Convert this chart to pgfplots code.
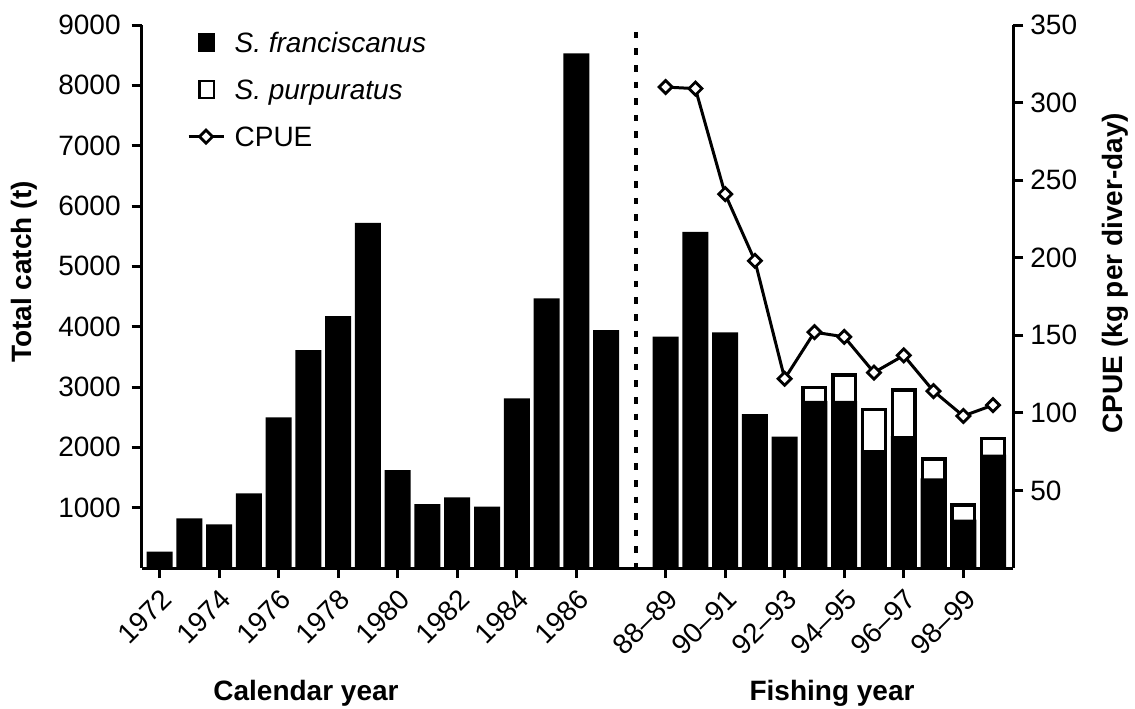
\documentclass[border=0pt]{standalone}
\usepackage{fontspec}
\setmainfont{Liberation Sans}
\usepackage{pgfplots}
\pgfplotsset{compat=1.18}
\pgfplotsset{
  cpue legend/.style={legend image code/.code={\draw[mark repeat=2, mark phase=2, ##1] plot coordinates {(0pt,0pt) (8.75pt,0pt) (17.5pt,0pt)};}},
}
\begin{document}
\begin{tikzpicture}
\useasboundingbox (-70.85pt,-70pt) rectangle (496.65pt,284pt);
\pgfplotsset{
  base/.style={
    scale only axis, width=435.8pt, height=271.5pt,
    xmin=-0.6, xmax=28.68,
    enlargelimits=false,
    tick align=outside,
    major tick length=5pt,
    tick style={black, line width=1.5pt},
    axis line style={black, line width=1.5pt},
    tick label style={font=\fontsize{14}{16.8}\selectfont},
    /pgf/number format/assume math mode=true,
    /pgf/number format/1000 sep={},
    label style={font=\bfseries\fontsize{14}{16.8}\selectfont},
  }
}
\begin{axis}[base,
  ybar, bar width=13pt,
  ymin=0, ymax=9000,
  axis x line*=bottom, axis y line*=left,
  ytick={1000,2000,...,9000},
  xtick={0,2,4,6,8,10,12,14,17,19,21,23,25,27},
  xticklabels={1972,1974,1976,1978,1980,1982,1984,1986,88--89,90--91,92--93,94--95,96--97,98--99},
  x tick label style={rotate=45, anchor=north east, xshift=0pt},
  y tick label style={xshift=-2pt},
  ylabel={Total catch (t)},
  ylabel style={at={(axis description cs:-0.135,0.545)}, anchor=center},
  clip=false,
]
% S. purpuratus on top: total height (white segment with border)
\addplot[fill=white, draw=black, line width=1.7pt, bar width=11.3pt, bar shift=0pt] coordinates {
(22,2988) (23,3198) (24,2628) (25,2949) (26,1806) (27,1044) (28,2150)};
% S. franciscanus
\addplot[fill=black, draw=none, bar width=13pt, bar shift=0pt] coordinates {
(0,270) (1,823) (2,724) (3,1238) (4,2497) (5,3612) (6,4176) (7,5722)
(8,1624) (9,1060) (10,1171) (11,1016) (12,2812) (13,4469) (14,8529) (15,3944)
(17,3833) (18,5573) (19,3905) (20,2552) (21,2176) (22,2772) (23,2772)
(24,1955) (25,2187) (26,1486) (27,800) (28,1880)};
\draw[line width=1.8pt, dash pattern=on 3.3pt off 5pt] (axis cs:16,8887) -- (axis cs:16,0);
\node[anchor=base, yshift=-66pt, font=\bfseries\fontsize{14}{16.8}\selectfont] at (axis description cs:0.1885,0) {Calendar year};
\node[anchor=base, yshift=-66pt, font=\bfseries\fontsize{14}{16.8}\selectfont] at (axis description cs:0.792,0) {Fishing year};
\end{axis}
\begin{axis}[base,
  ymin=0, ymax=350,
  axis y line*=right, axis x line=none,
  ytick={50,100,...,350},
  ylabel={CPUE (kg per diver-day)},
  ylabel style={at={(axis description cs:1.1167,0.543)}, anchor=center},
  legend style={draw=none, fill=none, at={(axis description cs:0.052,0.9932)}, anchor=north west,
    inner sep=0pt, outer sep=0pt, row sep=9.5pt, column sep=4.8pt,
    font=\fontsize{14}{16.8}\selectfont,
    cells={anchor=west},
    nodes={inner sep=0pt, text height=12pt, text depth=2pt}},
]
\addlegendimage{legend image code/.code={\fill[black] (5pt,-4.5pt) rectangle (13pt,4.5pt); \path (0pt,0pt) (17.5pt,0pt);}}
\addlegendentry{\textit{S. franciscanus}}
\addlegendimage{legend image code/.code={\draw[black, line width=1.2pt, fill=white] (5.4pt,-4.2pt) rectangle (12.6pt,4.2pt); \path (0pt,0pt) (17.5pt,0pt);}}
\addlegendentry{\textit{S. purpuratus}}
\addplot[black, line width=1.5pt, sharp plot, mark=square*, mark size=2.3pt,
  mark options={rotate=45, fill=white, solid, line width=1.4pt}, cpue legend]
  coordinates {(17,310) (18,309) (19,241) (20,198) (21,122) (22,152) (23,149) (24,126) (25,137) (26,114) (27,98) (28,105)};
\addlegendentry{CPUE}
\end{axis}
\end{tikzpicture}
\end{document}
